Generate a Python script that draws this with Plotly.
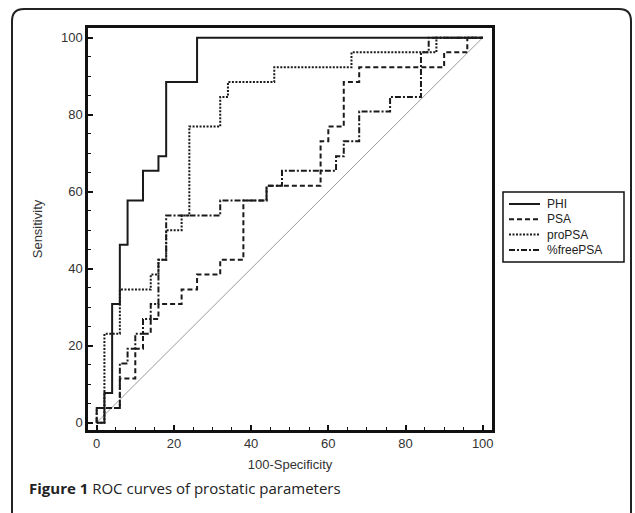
import plotly.graph_objects as go

# ROC operating points (100-Specificity, Sensitivity), in percent
phi_fpr = [0, 2, 4, 6, 8, 12, 16, 18, 26, 100]
phi_tpr = [0, 7.7, 30.8, 46.2, 57.7, 65.4, 69.2, 88.5, 100, 100]

psa_fpr = [0, 0, 6, 10, 12, 14, 16, 22, 26, 32, 38, 44, 58, 60, 64, 68, 90, 96, 100]
psa_tpr = [0, 3.8, 11.5, 19.2, 23.1, 26.9, 30.8, 34.6, 38.5, 42.3, 57.7, 61.5, 73.1, 76.9, 88.5, 92.3, 96.2, 100, 100]

propsa_fpr = [0, 2, 6, 14, 16, 18, 22, 24, 32, 34, 46, 66, 88, 100]
propsa_tpr = [0, 23.1, 34.6, 38.5, 42.3, 50.0, 53.8, 76.9, 84.6, 88.5, 92.3, 96.2, 100, 100]

free_fpr = [0, 0, 6, 8, 10, 12, 14, 16, 18, 32, 44, 48, 62, 64, 68, 76, 84, 86, 100]
free_tpr = [0, 3.8, 15.4, 19.2, 23.1, 26.9, 30.8, 42.3, 53.8, 57.7, 61.5, 65.4, 69.2, 73.1, 80.8, 84.6, 96.2, 100, 100]

ref_line = [0, 100]

x_ticks = [0, 20, 40, 60, 80, 100]
y_ticks = [0, 20, 40, 60, 80, 100]

W, H = 635, 513
ML, MR, MT, MB = 88, 143, 28, 83
PW, PH = W - ML - MR, H - MT - MB


def px(x):
    return (x - ML) / PW


def py(y):
    return (H - MB - y) / PH


FONT = "Liberation Sans, Arial"
INK = "#1a1a1a"

fig = go.Figure()
fig.add_trace(go.Scatter(x=ref_line, y=ref_line, mode="lines",
                         line=dict(color="#9a9a9a", width=1), showlegend=False, hoverinfo="skip"))

series = [
    ("PHI", phi_fpr, phi_tpr, "solid"),
    ("PSA", psa_fpr, psa_tpr, "5px,3px"),
    ("proPSA", propsa_fpr, propsa_tpr, "2px,1.5px"),
    ("%freePSA", free_fpr, free_tpr, "6px,2px,2px,2px"),
]
for name, xs, ys, dash in series:
    fig.add_trace(go.Scatter(x=xs, y=ys, mode="lines", name=name, line_shape="hv",
                             showlegend=False,
                             line=dict(color=INK, width=2, dash=dash)))

axis_common = dict(
    showgrid=False, zeroline=False, showline=True, linecolor="#111", linewidth=2.5,
    mirror=True, ticks="inside", ticklen=5, tickwidth=1.5, tickcolor="#111",
    tickfont=dict(family=FONT, size=13, color="#333"),
    minor=dict(dtick=5, ticks="inside", ticklen=3, tickwidth=1.2, tickcolor="#111"),
)

fig.update_xaxes(range=[-2.25, 102.4], tickvals=x_ticks, title=dict(
    text="100-Specificity", font=dict(family=FONT, size=13, color="#333"), standoff=10),
    **axis_common)
fig.update_yaxes(range=[-1.9, 102.5], tickvals=y_ticks, title=dict(
    text="Sensitivity", font=dict(family=FONT, size=13, color="#333"), standoff=16),
    **axis_common)

# outer rounded border
L, T, R, B, r = 12, 9, 631, 530, 12
path = (f"M {px(L)} {py(B)} L {px(L)} {py(T + r)} Q {px(L)} {py(T)} {px(L + r)} {py(T)} "
        f"L {px(R - r)} {py(T)} Q {px(R)} {py(T)} {px(R)} {py(T + r)} L {px(R)} {py(B)}")
fig.add_shape(type="path", xref="paper", yref="paper", path=path,
              line=dict(color="#222", width=2))

# legend (drawn as box + samples + labels)
LG_L, LG_T, LG_R, LG_B = 503, 192, 624, 262
fig.add_shape(type="rect", xref="paper", yref="paper", x0=px(LG_L), x1=px(LG_R),
              y0=py(LG_B), y1=py(LG_T), line=dict(color="#111", width=1.5), fillcolor="white")
row0, row_gap = 204, 15.3
for i, (name, _, _, dash) in enumerate(series):
    yy = row0 + i * row_gap
    fig.add_shape(type="line", xref="paper", yref="paper", x0=px(509), x1=px(540),
                  y0=py(yy), y1=py(yy), line=dict(color=INK, width=2, dash=dash))
    fig.add_annotation(xref="paper", yref="paper", x=px(545), y=py(yy), xanchor="left",
                       yanchor="middle", text=name, showarrow=False,
                       font=dict(family=FONT, size=12, color="#222"))

fig.add_annotation(xref="paper", yref="paper", x=px(27), y=py(488), xanchor="left", yanchor="middle",
                   text="<b>Figure 1</b> ROC curves of prostatic parameters", showarrow=False,
                   font=dict(family="Open Sans", size=15, color="#222"))

fig.update_layout(
    width=W, height=H, margin=dict(l=ML, r=MR, t=MT, b=MB),
    paper_bgcolor="white", plot_bgcolor="white", showlegend=False,
)

fig.write_html("out.html", config={"displayModeBar": False},
               post_script="document.body.style.margin='0';")
